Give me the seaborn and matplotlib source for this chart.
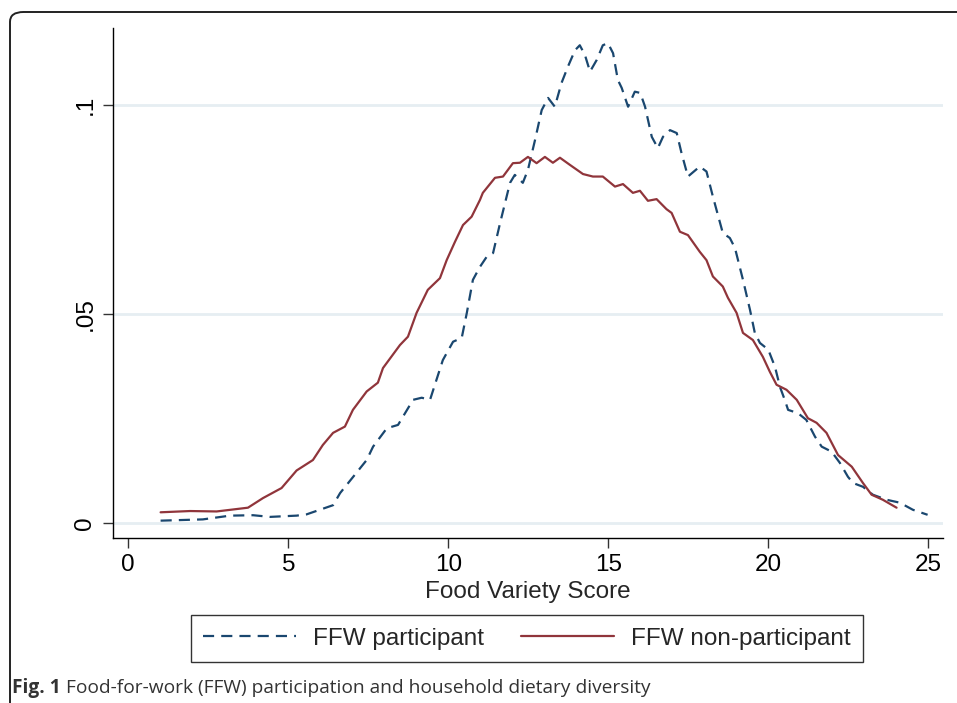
import matplotlib
matplotlib.use("Agg")
import matplotlib.pyplot as plt
import seaborn as sns
import pandas as pd
from matplotlib.patches import FancyBboxPatch

# FFW participant (dashed) density
part_x = [1.01, 2.33, 3.18, 3.90, 4.43, 5.26, 5.57, 6.40, 6.62, 7.03, 7.45, 7.65,
          8.08, 8.43, 8.90, 9.17, 9.43, 9.83, 10.15, 10.42, 10.58, 10.77, 10.99,
          11.20, 11.40, 11.62, 11.93, 12.08, 12.33, 12.49, 12.71, 12.92, 13.12,
          13.33, 13.54, 13.74, 13.96, 14.11, 14.27, 14.43, 14.64, 14.83, 14.99,
          15.15, 15.30, 15.42, 15.62, 15.83, 16.00, 16.15, 16.36, 16.55, 16.71,
          16.93, 17.14, 17.29, 17.49, 17.86, 18.07, 18.27, 18.58, 18.80, 18.96,
          19.21, 19.43, 19.58, 19.74, 20.00, 20.21, 20.37, 20.52, 20.62, 20.93,
          21.19, 21.46, 21.67, 21.98, 22.24, 22.49, 22.65, 22.96, 23.27, 23.70,
          24.11, 24.52, 24.98]
part_y = [0.0006, 0.0009, 0.0018, 0.0019, 0.0015, 0.0018, 0.0021, 0.0043, 0.0072,
          0.0111, 0.0151, 0.0183, 0.0227, 0.0235, 0.0295, 0.0300, 0.0295, 0.0390,
          0.0434, 0.0443, 0.0503, 0.0582, 0.0613, 0.0637, 0.0646, 0.0718, 0.0814,
          0.0833, 0.0814, 0.0845, 0.0916, 0.0988, 0.1017, 0.0996, 0.1053, 0.1092,
          0.1131, 0.1143, 0.1120, 0.1080, 0.1108, 0.1143, 0.1148, 0.1124, 0.1060,
          0.1041, 0.0996, 0.1032, 0.1029, 0.0996, 0.0924, 0.0897, 0.0924, 0.0940,
          0.0933, 0.0885, 0.0829, 0.0853, 0.0841, 0.0781, 0.0694, 0.0682, 0.0658,
          0.0582, 0.0510, 0.0455, 0.0431, 0.0415, 0.0374, 0.0325, 0.0294, 0.0271,
          0.0263, 0.0247, 0.0207, 0.0183, 0.0171, 0.0144, 0.0111, 0.0096, 0.0087,
          0.0068, 0.0056, 0.0049, 0.0032, 0.0020]

# FFW non-participant (solid) density
nonpart_x = [1.01, 1.93, 2.76, 3.74, 4.21, 4.79, 5.26, 5.77, 6.08, 6.40, 6.77, 7.02,
             7.45, 7.80, 7.96, 8.49, 8.74, 9.01, 9.36, 9.74, 9.95, 10.21, 10.46,
             10.73, 10.99, 11.08, 11.46, 11.71, 12.02, 12.24, 12.49, 12.76, 13.02,
             13.27, 13.49, 13.80, 14.21, 14.52, 14.83, 15.21, 15.46, 15.77, 15.99,
             16.24, 16.51, 16.82, 16.98, 17.24, 17.49, 17.86, 18.07, 18.27, 18.58,
             18.74, 19.01, 19.21, 19.52, 19.83, 20.05, 20.26, 20.57, 20.89, 21.24,
             21.51, 21.82, 22.18, 22.61, 22.96, 23.23, 23.58, 24.01]
nonpart_y = [0.0026, 0.0029, 0.0028, 0.0037, 0.0060, 0.0084, 0.0126, 0.0151, 0.0187,
             0.0216, 0.0231, 0.0271, 0.0315, 0.0336, 0.0371, 0.0426, 0.0446, 0.0503,
             0.0558, 0.0586, 0.0629, 0.0673, 0.0713, 0.0733, 0.0773, 0.0790, 0.0826,
             0.0829, 0.0861, 0.0862, 0.0876, 0.0861, 0.0876, 0.0862, 0.0874, 0.0857,
             0.0835, 0.0829, 0.0829, 0.0805, 0.0811, 0.0790, 0.0795, 0.0771, 0.0775,
             0.0751, 0.0742, 0.0697, 0.0689, 0.0649, 0.0629, 0.0590, 0.0566, 0.0539,
             0.0503, 0.0455, 0.0438, 0.0398, 0.0362, 0.0331, 0.0319, 0.0295, 0.0251,
             0.0240, 0.0216, 0.0163, 0.0135, 0.0096, 0.0068, 0.0056, 0.0037]

x_ticks = [0, 5, 10, 15, 20, 25]
y_ticks = [0, 0.05, 0.1]
y_tick_labels = ["0", ".05", ".1"]

labels = ["FFW participant", "FFW non-participant"]
colors = {"FFW participant": "#1a476f", "FFW non-participant": "#90353b"}

df = pd.concat([
    pd.DataFrame({"score": part_x, "density": part_y, "group": labels[0]}),
    pd.DataFrame({"score": nonpart_x, "density": nonpart_y, "group": labels[1]}),
])

sns.set_theme(style="white")
plt.rcParams["font.family"] = ["Liberation Sans", "DejaVu Sans"]

fig = plt.figure(figsize=(9.57, 7.03), dpi=100)
ax = fig.add_axes([0.118, 0.235, 0.867, 0.725])

# grid lines first so curves sit on top
for yv in y_ticks:
    ax.axhline(yv, color="#e6eef2", linewidth=2.0, zorder=0)

sns.lineplot(data=df, x="score", y="density", hue="group", style="group",
             palette=colors, dashes={labels[0]: (5, 3.2), labels[1]: ""},
             linewidth=1.6, sort=False, estimator=None, ax=ax, legend=False)

ax.set_xlim(-0.48, 25.45)
ax.set_ylim(-0.0035, 0.1184)
ax.set_xticks(x_ticks)
ax.set_xticklabels([str(t) for t in x_ticks])
ax.set_yticks(y_ticks)
ax.set_yticklabels(y_tick_labels, rotation=90, va="center")
ax.tick_params(axis="both", direction="out", length=7, width=1, color="#333333",
               labelsize=17.5, labelcolor="black", pad=5, left=True, bottom=True)
ax.set_xlabel("Food Variety Score", fontsize=17.5, labelpad=3)
ax.set_ylabel("")

for side in ["top", "right"]:
    ax.spines[side].set_visible(False)
for side in ["left", "bottom"]:
    ax.spines[side].set_color("black")
    ax.spines[side].set_linewidth(1.0)

# legend below the axes, boxed
handles = [plt.Line2D([], [], color=colors[labels[0]], linewidth=1.6, dashes=(5, 3.2)),
           plt.Line2D([], [], color=colors[labels[1]], linewidth=1.6)]
leg = fig.legend(handles, labels, loc="center", bbox_to_anchor=(0.5505, 1 - 638.5 / 703),
                 ncol=2, fontsize=17.5, frameon=True, fancybox=False, edgecolor="black",
                 handlelength=3.8, handletextpad=0.7, columnspacing=1.55,
                 borderpad=0.5, borderaxespad=0)
leg.get_frame().set_linewidth(1.0)

# outer rounded frame of the figure panel
frame = FancyBboxPatch((10 / 957, -0.05), 1.1, 1 - 12 / 703 + 0.05,
                       boxstyle="round,pad=0,rounding_size=0.014",
                       transform=fig.transFigure, facecolor="none",
                       edgecolor="#222222", linewidth=1.4, clip_on=False)
fig.patches.append(frame)

# caption: bold figure number, then the plain title right after it
cap_y = 1 - 688 / 703
t1 = fig.text(12 / 957, cap_y, "Fig. 1", fontsize=13.8, fontweight="bold",
              family="Open Sans", color="#333333", va="center", ha="left")
fig.canvas.draw()
bb = t1.get_window_extent()
fig.text((bb.x1 + 5) / 957, cap_y,
         "Food-for-work (FFW) participation and household dietary diversity",
         fontsize=13.8, family="Open Sans", color="#333333", va="center", ha="left")

fig.savefig("out.png", dpi=100)
plt.close(fig)
